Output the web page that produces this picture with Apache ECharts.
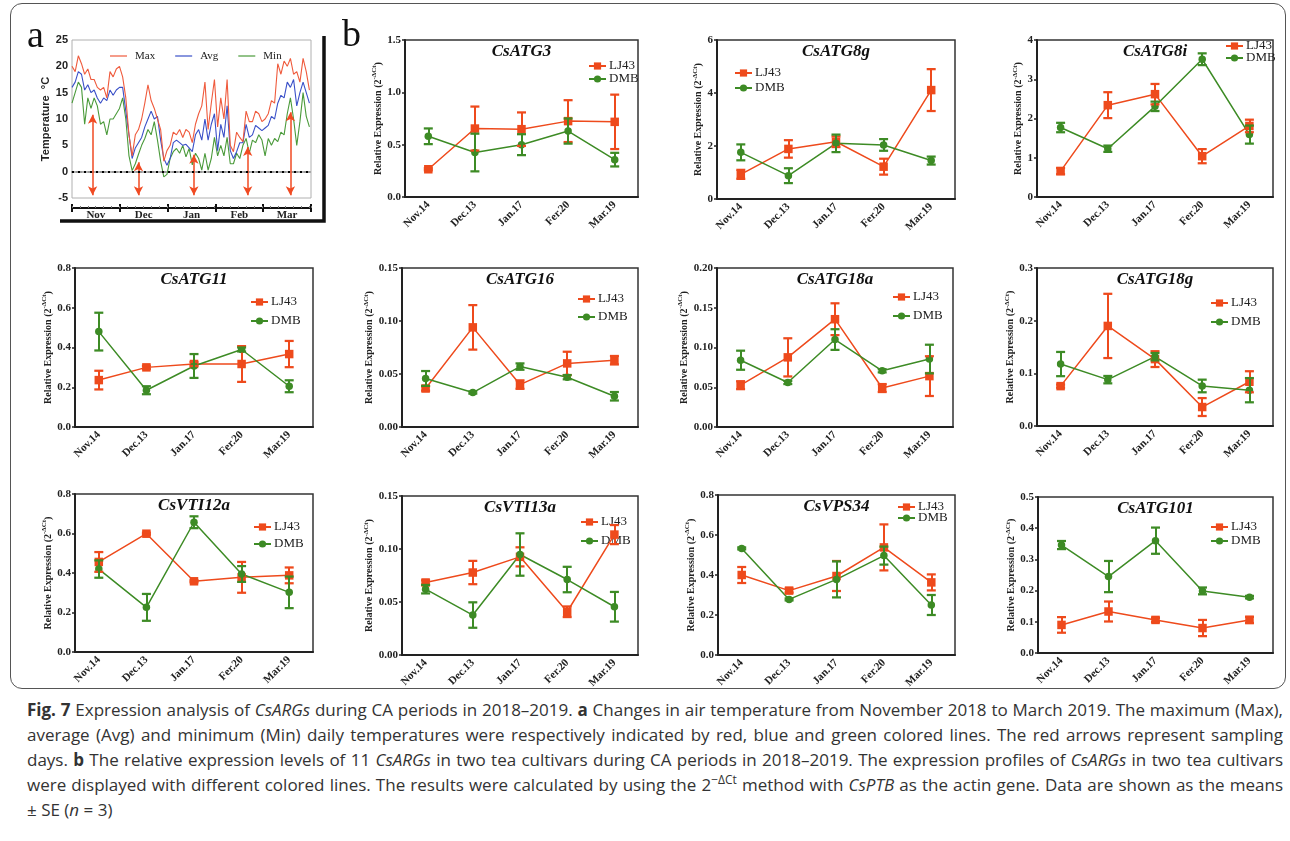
<!DOCTYPE html>
<html>
<head>
<meta charset="utf-8">
<script src="https://cdn.jsdelivr.net/npm/echarts@6/dist/echarts.min.js"></script>
<style>
body { margin: 0; background: #fff; }
#page { position: relative; width: 1290px; height: 841px; overflow: hidden; }
#frame { position: absolute; left: 10px; top: 3px; width: 1274px; height: 684px; border: 1.5px solid #555; border-radius: 12px; }
#chart { position: absolute; left: 0; top: 0; width: 1290px; height: 695px; }
#caption { position: absolute; left: 27px; top: 697px; width: 1256px; font-family: "Open Sans"; font-size: 17px; line-height: 25px; color: #333; }
#caption .ln { display: block; text-align: justify; text-align-last: justify; white-space: nowrap; }
#caption .last { text-align-last: left; }
#caption sup { font-size: 12px; line-height: 0; }
</style>
</head>
<body>
<div id="page">
  <div id="frame"></div>
  <div id="chart"></div>
  <div id="caption">
    <span class="ln"><b>Fig. 7</b> Expression analysis of <i>CsARGs</i> during CA periods in 2018–2019. <b>a</b> Changes in air temperature from November 2018 to March 2019. The maximum (Max),</span>
    <span class="ln">average (Avg) and minimum (Min) daily temperatures were respectively indicated by red, blue and green colored lines. The red arrows represent sampling</span>
    <span class="ln">days. <b>b</b> The relative expression levels of 11 <i>CsARGs</i> in two tea cultivars during CA periods in 2018–2019. The expression profiles of <i>CsARGs</i> in two tea cultivars</span>
    <span class="ln">were displayed with different colored lines. The results were calculated by using the 2<sup>−ΔCt</sup> method with <i>CsPTB</i> as the actin gene. Data are shown as the means</span>
    <span class="ln last">± SE (<i>n</i> = 3)</span>
  </div>
</div>
<script>
// panel a: daily temperature, Nov 1 2018 (day 0) .. Mar 31 2019 (day 150)
const tempDays = [0, 2, 4, 6, 8, 10, 12, 14, 16, 18, 20, 22, 24, 26, 28, 30, 32, 34, 36, 38,
  40, 42, 44, 46, 48, 50, 52, 54, 56, 58, 60, 62, 64, 66, 68, 70, 72, 74, 76, 78,
  80, 82, 84, 86, 88, 90, 92, 94, 96, 98, 100, 102, 104, 106, 108, 110, 112, 114, 116, 118,
  120, 122, 124, 126, 128, 130, 132, 134, 136, 138, 140, 142, 144, 146, 148, 150];
const tempMax = [20, 19, 22, 20.5, 18.5, 19.5, 17.5, 17.5, 16, 15.5, 16, 14, 19, 18, 19.5, 20, 18, 14, 7, 3,
  7, 8, 10, 13, 16.5, 13.5, 12, 10, 8, 2, 4, 5, 7.5, 7, 8, 6.5, 8, 7.5, 5.5, 9,
  11, 12.5, 17, 8, 13, 17.5, 8.5, 14, 10, 17.5, 5, 3.8, 7.5, 6.5, 5.7, 11.5, 9.5, 9.5, 11.5, 11,
  9.5, 10, 11, 13.5, 13, 20.5, 18.5, 21, 20, 21.5, 18.5, 19, 17, 21.5, 19, 15.5];
const tempAvg = [16, 17, 19, 18.5, 15.5, 16.5, 15, 15.5, 14, 13, 14, 13.5, 15.5, 14.5, 15.5, 16, 16, 11.5, 7, 2.5,
  4.5, 5.5, 6.5, 8.5, 10, 11.5, 10, 10.5, 6, 2.5, 1.2, 2.5, 5.5, 6, 5.5, 5, 5.2, 4.5, 3.8, 7,
  8, 6, 10, 6, 9, 11, 4, 9, 6.5, 12.5, 4, 2.5, 3.8, 5.5, 5.5, 9, 6.5, 7, 8.8, 8.3,
  7.8, 8.3, 8.8, 10.5, 10, 13, 14.5, 14, 17, 16, 17.5, 12.5, 15, 17, 15, 13];
const tempMin = [13, 15, 17, 16, 9, 14, 12, 14, 12.5, 9, 9.5, 7, 10, 10, 11, 12, 14, 10, 3, 0.2,
  1.5, 3.3, 5, 6.3, 8, 7, 9.5, 6, 2, -1, -0.5, 2.5, 3.8, 4.4, 3.5, 5, 2.8, 4.4, 1.3, 3.5,
  2.5, 0.3, 3.5, 0.3, 2.5, 6.5, 3, 5, 3, 6.5, 1.5, 1.5, 3.5, 2.5, 5, 6.3, 3.5, 6, 5.5, 7,
  6, 3, 6.3, 5, 6.3, 5.7, 7.5, 7, 11, 14, 10, 5, 9.5, 15, 10.5, 8.5];
const monthLabels = ['Nov', 'Dec', 'Jan', 'Feb', 'Mar'];
const sampleDays = [13, 42, 77, 111, 138];
const arrowTop = [10.8, 1.8, 3.2, 4.7, 11.3];
const arrowBase = -4.5;

// panel b: relative expression, mean and SE per gene (rows) and date (columns)
const sampleDates = ['Nov.14', 'Dec.13', 'Jan.17', 'Fer.20', 'Mar.19'];
const geneNames = ['CsATG3', 'CsATG8g', 'CsATG8i', 'CsATG11', 'CsATG16', 'CsATG18a',
  'CsATG18g', 'CsVTI12a', 'CsVTI13a', 'CsVPS34', 'CsATG101'];
const lj43Mean = [
  [0.265, 0.654, 0.648, 0.725, 0.718],
  [0.93, 1.89, 2.16, 1.22, 4.11],
  [0.66, 2.34, 2.62, 1.04, 1.81],
  [0.236, 0.30, 0.317, 0.317, 0.367],
  [0.0363, 0.094, 0.040, 0.060, 0.063],
  [0.0526, 0.0876, 0.1356, 0.049, 0.064],
  [0.0757, 0.19, 0.127, 0.036, 0.084],
  [0.456, 0.599, 0.358, 0.378, 0.388],
  [0.0684, 0.0778, 0.0926, 0.0408, 0.1136],
  [0.40, 0.322, 0.395, 0.538, 0.363],
  [0.090, 0.133, 0.106, 0.080, 0.106]
];
const lj43Se = [
  [0.01, 0.21, 0.16, 0.2, 0.26],
  [0.17, 0.33, 0.2, 0.3, 0.79],
  [0.08, 0.33, 0.26, 0.18, 0.16],
  [0.047, 0.008, 0.01, 0.09, 0.066],
  [0.002, 0.021, 0.004, 0.011, 0.004],
  [0.005, 0.024, 0.02, 0.005, 0.025],
  [0.003, 0.061, 0.015, 0.017, 0.02],
  [0.05, 0.005, 0.005, 0.078, 0.04],
  [0.002, 0.011, 0.009, 0.005, 0.009],
  [0.04, 0.01, 0.075, 0.115, 0.04],
  [0.025, 0.032, 0.007, 0.026, 0.01]
];
const dmbMean = [
  [0.58, 0.425, 0.50, 0.63, 0.357],
  [1.76, 0.88, 2.1, 2.04, 1.45],
  [1.77, 1.23, 2.31, 3.51, 1.59],
  [0.48, 0.185, 0.307, 0.39, 0.205],
  [0.0458, 0.0325, 0.057, 0.047, 0.029],
  [0.084, 0.056, 0.110, 0.0707, 0.0855],
  [0.1176, 0.088, 0.1316, 0.076, 0.068],
  [0.42, 0.226, 0.657, 0.395, 0.302],
  [0.0621, 0.0377, 0.0948, 0.0712, 0.0455],
  [0.533, 0.278, 0.378, 0.497, 0.25],
  [0.346, 0.245, 0.36, 0.199, 0.179]
];
const dmbSe = [
  [0.075, 0.18, 0.1, 0.12, 0.065],
  [0.3, 0.28, 0.33, 0.22, 0.15],
  [0.12, 0.08, 0.12, 0.15, 0.23],
  [0.095, 0.02, 0.06, 0.01, 0.03],
  [0.007, 0.001, 0.003, 0.002, 0.004],
  [0.012, 0.002, 0.013, 0.002, 0.018],
  [0.023, 0.007, 0.007, 0.012, 0.023],
  [0.044, 0.068, 0.03, 0.04, 0.08],
  [0.004, 0.012, 0.02, 0.012, 0.014],
  [0.005, 0.005, 0.09, 0.045, 0.05],
  [0.013, 0.05, 0.042, 0.011, 0.004]
];
const yMax = [1.5, 6, 4, 0.8, 0.15, 0.2, 0.3, 0.8, 0.15, 0.8, 0.5];
const yStep = [0.5, 2, 1, 0.2, 0.05, 0.05, 0.1, 0.2, 0.05, 0.2, 0.1];
const yDigits = [1, 0, 0, 1, 2, 2, 1, 1, 2, 1, 1];

// layout of the panels (left, top, width, height), legends (x, y of first row, row step), name gaps
const panelBox = [[405, 40, 233, 157], [717, 40, 238, 159], [1037, 40, 236, 157],
  [75, 268, 238, 159], [402, 268, 236, 159], [717, 268, 236, 159], [1037, 268, 236, 158],
  [75, 494, 238, 158], [402, 496, 236, 159], [718, 495, 237, 160], [1038, 497, 235, 156]];
const legendPos = [[588, 66, 13], [734, 73, 15], [1225, 46, 12], [250, 302, 19], [577, 299, 18],
  [892, 297, 19], [1210, 303, 19], [253, 527, 17], [580, 522, 19], [897, 507, 11], [1210, 527, 14]];
const nameDist = [28, 17, 17, 28, 33, 34, 26, 28, 29, 28, 26];

const SERIF = 'Liberation Serif';
const SANS = 'Liberation Sans';
const RED = '#ee4a1c';
const GREEN = '#3d8b25';
const INK = '#222';
// flat cap for the error bars (square bounding box so it keeps its shape)
const CAP = 'path://M0,0M20,20M0,7.5H20V12.5H0Z';

function zip(xs, ys) {
    return xs.map((x, i) => [x, ys[i]]);
}

function errorLines(means, ses) {
    return means.map((m, k) => [
        { coord: [k, m - ses[k]] },
        { coord: [k, m + ses[k]] }
    ]);
}

let grids = [{ left: 72, top: 40, width: 239, height: 158, show: true, borderColor: '#b0b0b0', borderWidth: 1 }];
let xAxes = [
    { gridIndex: 0, type: 'value', min: 0, max: 151, position: 'bottom',
      axisLine: { show: true, lineStyle: { color: '#999', type: 'dotted', width: 2 } },
      axisTick: { show: false }, axisLabel: { show: false }, splitLine: { show: false } },
    { gridIndex: 0, type: 'category', data: monthLabels, position: 'bottom', offset: 10, boundaryGap: true,
      axisLine: { show: true, lineStyle: { color: '#111', width: 2 } },
      axisTick: { show: true, length: 4, lineStyle: { color: '#111', width: 2 } },
      axisLabel: { margin: 2, fontFamily: SERIF, fontWeight: 'bold', fontSize: 11, color: INK } },
    { gridIndex: 0, type: 'category', data: monthLabels, position: 'bottom', offset: 10, boundaryGap: true,
      axisLine: { show: false }, axisTick: { show: true, inside: true, length: 4, lineStyle: { color: '#111', width: 2 } },
      axisLabel: { show: false } },
    { gridIndex: 0, type: 'value', min: 0, max: 151, interval: 5, position: 'bottom', offset: 10,
      axisLine: { show: false }, axisTick: { show: true, inside: true, length: 2, lineStyle: { color: '#777', width: 1 } },
      axisLabel: { show: false }, splitLine: { show: false } }
];
const X_OFFSET = xAxes.length - 1;   // expression panel g uses xAxis g + X_OFFSET
let yAxes = [
    { gridIndex: 0, type: 'value', min: -5, max: 25, interval: 5,
      axisLine: { show: false }, axisTick: { show: false }, splitLine: { show: false },
      axisLabel: { margin: 4, fontFamily: SANS, fontWeight: 'bold', fontSize: 11, color: INK },
      name: 'Temperature  \u00b0C', nameLocation: 'middle', nameRotate: 90, nameGap: 19,
      nameTextStyle: { fontFamily: SANS, fontWeight: 'bold', fontSize: 11, color: INK } }
];
let series = [
    { name: 'Max', type: 'line', xAxisIndex: 0, yAxisIndex: 0, data: zip(tempDays, tempMax), symbol: 'none',
      lineStyle: { color: '#ef5a3c', width: 1.1 }, itemStyle: { color: '#ef5a3c' }, z: 3,
      markLine: {
          silent: true, symbol: ['arrow', 'arrow'], symbolSize: [7, 9], label: { show: false },
          lineStyle: { color: '#f04a22', width: 1.5, type: 'solid' },
          data: sampleDays.map((d, i) => [{ coord: [d, arrowBase] }, { coord: [d, arrowTop[i]] }])
      } },
    { name: 'Avg', type: 'line', xAxisIndex: 0, yAxisIndex: 0, data: zip(tempDays, tempAvg), symbol: 'none',
      lineStyle: { color: '#3a50c8', width: 1.1 }, itemStyle: { color: '#3a50c8' }, z: 2 },
    { name: 'Min', type: 'line', xAxisIndex: 0, yAxisIndex: 0, data: zip(tempDays, tempMin), symbol: 'none',
      lineStyle: { color: '#4a9a3a', width: 1.1 }, itemStyle: { color: '#4a9a3a' }, z: 1,
      markLine: {
          silent: true, symbol: 'none', label: { show: false },
          lineStyle: { color: '#000', width: 2, type: [2, 4] },
          data: [{ yAxis: 0 }]
      } }
];
let legends = [
    { data: [{ name: 'Max', icon: 'rect' }, { name: 'Avg', icon: 'rect' }, { name: 'Min', icon: 'rect' }],
      left: 110, top: 50, orient: 'horizontal', itemWidth: 17, itemHeight: 1.2,
      itemGap: 20, padding: 0, selectedMode: false,
      textStyle: { fontFamily: SERIF, fontSize: 11, lineHeight: 12, color: INK, padding: [0, 0, 0, 3] } }
];
let titles = [];

geneNames.forEach((gene, i) => {
    let g = i + 1;
    let xi = g + X_OFFSET;
    let box = panelBox[i];
    grids.push({ left: box[0], top: box[1], width: box[2], height: box[3], show: true,
        borderColor: '#333', borderWidth: 1.5 });
    xAxes.push({ gridIndex: g, type: 'category', data: sampleDates, boundaryGap: true,
        axisLine: { lineStyle: { color: INK, width: 2 } }, axisTick: { show: false },
        axisLabel: { interval: 0, rotate: 45, margin: 6, fontFamily: SERIF, fontWeight: 'bold', fontSize: 11, color: INK } });
    yAxes.push({ gridIndex: g, type: 'value', min: 0, max: yMax[i], interval: yStep[i],
        axisLine: { show: true, lineStyle: { color: INK, width: 2 } },
        axisTick: { show: true, length: 3, lineStyle: { color: INK, width: 1.5 } },
        splitLine: { show: false },
        axisLabel: { margin: 4, fontFamily: SERIF, fontWeight: 'bold', fontSize: 11, color: INK,
            formatter: v => v.toFixed(yDigits[i]) },
        name: '{t|Relative Expression (2}{s|-\u0394Ct}{t|)}', nameLocation: 'middle', nameRotate: 90,
        nameGap: nameDist[i] - 6,
        nameTextStyle: { rich: {
            t: { fontFamily: SERIF, fontWeight: 'bold', fontSize: 10, color: INK, lineHeight: 12, verticalAlign: 'bottom' },
            s: { fontFamily: SERIF, fontWeight: 'bold', fontSize: 7, color: INK, lineHeight: 12, verticalAlign: 'top' }
        } } });
    titles.push({ text: gene, left: box[0] + box[2] / 2, top: box[1] + 3, textAlign: 'center', padding: 0,
        textStyle: { fontFamily: SERIF, fontStyle: 'italic', fontWeight: 'bold', fontSize: 17, color: '#111' } });
    let lp = legendPos[i];
    legends.push({ data: ['LJ43', 'DMB'], left: lp[0], top: lp[1] - 6.5, orient: 'vertical', itemWidth: 17,
        itemHeight: 9, itemGap: lp[2] - 13, padding: 0, selectedMode: false,
        textStyle: { fontFamily: SERIF, fontSize: 13, lineHeight: 13, color: INK, padding: [0, 0, 0, -2] } });

    series.push({ name: 'LJ43', type: 'line', xAxisIndex: xi, yAxisIndex: g, data: lj43Mean[i], z: 4,
        symbol: 'rect', symbolSize: 8.5, lineStyle: { color: RED, width: 1.5 }, itemStyle: { color: RED },
        markLine: { silent: true, symbol: [CAP, CAP], symbolSize: 9, label: { show: false },
            lineStyle: { color: RED, width: 2, type: 'solid' }, emphasis: { disabled: true },
            data: errorLines(lj43Mean[i], lj43Se[i]) } });
    series.push({ name: 'DMB', type: 'line', xAxisIndex: xi, yAxisIndex: g, data: dmbMean[i], z: 4,
        symbol: 'circle', symbolSize: 7.5, lineStyle: { color: GREEN, width: 1.5 }, itemStyle: { color: GREEN },
        markLine: { silent: true, symbol: [CAP, CAP], symbolSize: 9, label: { show: false },
            lineStyle: { color: GREEN, width: 2, type: 'solid' }, emphasis: { disabled: true },
            data: errorLines(dmbMean[i], dmbSe[i]) } });
});

let chart = echarts.init(document.getElementById('chart'));
chart.setOption({
    animation: false,
    backgroundColor: 'transparent',
    title: titles,
    legend: legends,
    grid: grids,
    xAxis: xAxes,
    yAxis: yAxes,
    series: series,
    graphic: [
        { type: 'text', left: 27, top: 18, style: { text: 'a', fontFamily: SERIF, fontSize: 38, fill: '#111' } },
        { type: 'text', left: 342, top: 17, style: { text: 'b', fontFamily: SERIF, fontSize: 38, fill: '#111' } },
        { type: 'polyline', shape: { points: [[60, 221], [324, 221], [324, 36]] },
          style: { stroke: '#111', lineWidth: 3.5, fill: null } }
    ]
});
</script>
</body>
</html>
